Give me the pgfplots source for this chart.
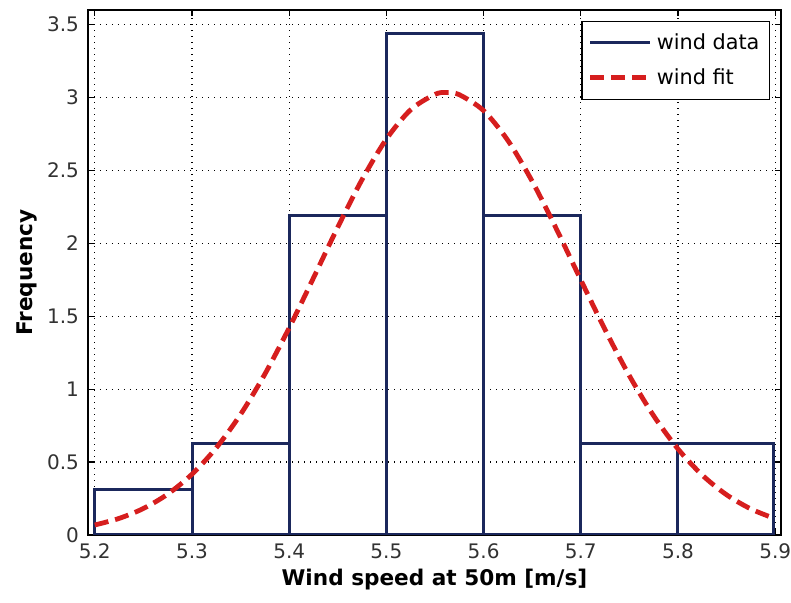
\documentclass[border=0pt]{standalone}
\usepackage{pgfplots}
\pgfplotsset{compat=1.18}
\usepackage{fontspec}
\setmainfont{DejaVu Sans}
\definecolor{navy}{RGB}{27,40,92}
\definecolor{fitred}{RGB}{214,30,30}
\definecolor{ticktxt}{RGB}{50,50,50}
\begin{document}
\begin{tikzpicture}
\useasboundingbox (-44pt,-34pt) rectangle (351.5pt,267.5pt);
\begin{axis}[
  name=ax, at={(0,0)}, anchor=south west,
  width=346.5pt, height=262.5pt, scale only axis,
  xmin=5.193, xmax=5.906, ymin=0, ymax=3.6,
  xtick={5.2,5.3,5.4,5.5,5.6,5.7,5.8,5.9},
  ytick={0,0.5,1,1.5,2,2.5,3,3.5},
  xticklabels={5.2,5.3,5.4,5.5,5.6,5.7,5.8,5.9},
  yticklabels={0,0.5,1,1.5,2,2.5,3,3.5},
  tick align=inside, tick pos=both,
  major tick length=3pt,
  axis line style={line width=0.8pt, black},
  every tick/.style={black, line width=0.6pt},
  grid=major,
  major grid style={black, line width=0.6pt, dash pattern=on 0.6pt off 2.4pt},
  ticklabel style={font=\fontsize{10}{12}\selectfont, text=ticktxt},
  /pgf/number format/assume math mode=true,
  xticklabel style={yshift=-1pt},
  yticklabel style={xshift=-1pt},
  xlabel={\bfseries Wind speed at 50m [m/s]},
  ylabel={\bfseries Frequency},
  label style={font=\fontsize{10.8}{13}\selectfont},
  xlabel style={yshift=2pt},
  ylabel style={yshift=-2pt},
  legend style={at={(1,1)}, anchor=north east, xshift=-5.5pt, yshift=-5.5pt,
    draw=black, line width=0.6pt, font=\fontsize{10.4}{12.5}\selectfont,
    inner xsep=3pt, inner ysep=4pt, row sep=4pt,
    cells={anchor=west}},
]
\addlegendimage{legend image code/.code={\draw[navy, line width=1.5pt] (0pt,0pt) -- (30pt,0pt);}}
\addlegendentry{wind data}
\addplot[ybar interval, draw=navy, fill=none, line width=1.5pt, forget plot] coordinates {
(5.2,0.3125) (5.3,0.625) (5.4,2.1875) (5.5,3.4375) (5.6,2.1875) (5.7,0.625) (5.8,0.625) (5.898,0.625)
};
\addplot[fitred, line width=2.4pt, dash pattern=on 7pt off 3.5pt, smooth,
  legend image code/.code={\draw[fitred, line width=2.4pt, dash pattern=on 7pt off 3.5pt] (0pt,0pt) -- (30pt,0pt);}] coordinates {
(5.200,0.0686) (5.225,0.1137) (5.250,0.1818) (5.275,0.2803) (5.300,0.4168)
(5.325,0.5980) (5.350,0.8272) (5.375,1.1038) (5.400,1.4206) (5.425,1.7633)
(5.450,2.1112) (5.475,2.4376) (5.500,2.7149) (5.525,2.9162) (5.550,3.0214)
(5.562,3.0340) (5.575,3.0192) (5.600,2.9099) (5.625,2.7051) (5.650,2.4253)
(5.675,2.0974) (5.700,1.7492) (5.725,1.4073) (5.750,1.0919) (5.775,0.8172)
(5.800,0.5898) (5.825,0.4106) (5.850,0.2757) (5.875,0.1786) (5.900,0.1115)
};
\addlegendentry{wind fit}
\end{axis}
\end{tikzpicture}
\end{document}
